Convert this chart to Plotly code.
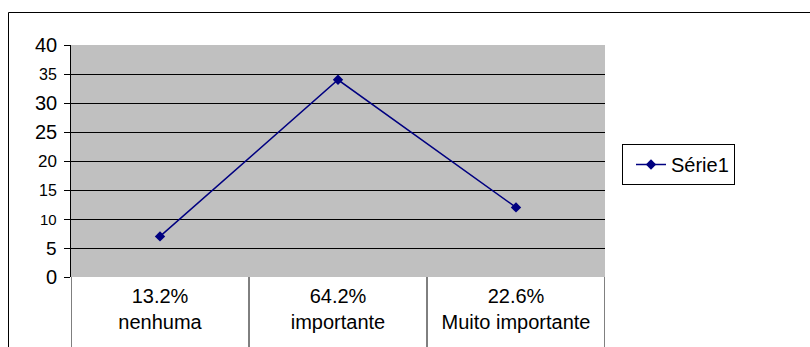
import plotly.graph_objects as go

categories = ["13.2%<br>nenhuma", "64.2%<br>importante", "22.6%<br>Muito importante"]
values = [7, 34, 12]
series_name = "Série1"
y_ticks = [0, 5, 10, 15, 20, 25, 30, 35, 40]
y_tick_sizes = [20, 19, 15, 16, 17, 20, 20, 16, 20]

W, H = 810, 347
L, R, T, B = 71, 205, 45, 70
pw, ph = W - L - R, H - T - B

def px_x(p):
    return (p - L) / pw

def px_y(p):
    return (H - B - p) / ph

xs = list(range(len(categories)))

fig = go.Figure()
fig.add_trace(go.Scatter(
    x=xs, y=values, name=series_name, mode="lines+markers",
    line=dict(color="#000080", width=1.5),
    marker=dict(symbol="diamond", size=8, color="#000080"),
))

# y tick labels with individual font sizes, positioned through the y scale
annotations = []
for v, s in zip(y_ticks, y_tick_sizes):
    annotations.append(dict(xref="paper", yref="y", x=px_x(58), y=v, text=str(v),
                            showarrow=False, xanchor="right", yanchor="middle",
                            font=dict(size=s, color="black"), borderpad=0))

shapes = []
# category dividers extending below plot
for i in range(len(categories) + 1):
    shapes.append(dict(type="line", xref="x", yref="paper", x0=i - 0.5, x1=i - 0.5,
                       y0=0, y1=px_y(H + 5), line=dict(color="black", width=1)))
# outer chart border (left and top)
shapes.append(dict(type="line", xref="paper", yref="paper", x0=px_x(8.5), x1=px_x(8.5),
                   y0=px_y(12.5), y1=px_y(H + 5), line=dict(color="black", width=1)))
shapes.append(dict(type="line", xref="paper", yref="paper", x0=px_x(8.5), x1=px_x(W + 5),
                   y0=px_y(12.5), y1=px_y(12.5), line=dict(color="black", width=1)))

fig.update_layout(
    width=W, height=H,
    margin=dict(l=L, r=R, t=T, b=B, pad=0),
    paper_bgcolor="white", plot_bgcolor="#C0C0C0",
    font=dict(family="Arial, Liberation Sans, sans-serif", color="black", size=20),
    showlegend=True,
    legend=dict(x=px_x(622), y=px_y(144), xanchor="left", yanchor="top",
                bordercolor="black", borderwidth=1, bgcolor="white",
                font=dict(size=20), tracegroupgap=0, itemwidth=30,
                indentation=8),
    xaxis=dict(range=[-0.5, len(categories) - 0.5], tickmode="array", tickvals=xs,
               ticktext=categories, showgrid=False, zeroline=False, showline=False,
               ticks="", tickfont=dict(size=20), ticklabelstandoff=5, fixedrange=True),
    yaxis=dict(range=[0, 40], tickmode="array", tickvals=y_ticks, showticklabels=False,
               showgrid=True, gridcolor="black", gridwidth=1, zeroline=False,
               showline=True, linecolor="black", linewidth=1,
               ticks="outside", ticklen=6, tickcolor="black", fixedrange=True),
    shapes=shapes,
    annotations=annotations,
)

fig.write_html("out.html")
